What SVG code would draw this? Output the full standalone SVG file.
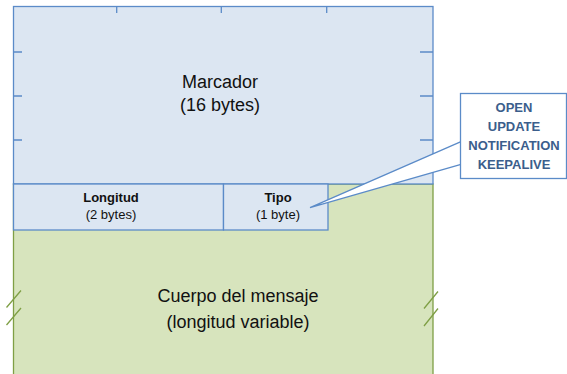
<svg xmlns="http://www.w3.org/2000/svg" width="567" height="374" viewBox="0 0 567 374">
<style>
.blue{fill:#DCE6F2;stroke:#5B8BC8;stroke-width:1.3}
.green{fill:#D7E4BD;stroke:#7F9F45;stroke-width:1.3}
.tick{stroke:#5B8BC8;stroke-width:1.3;fill:none}
.slash{stroke:#7F9F45;stroke-width:1.3;fill:none}
.big{font-family:"Liberation Sans",Arial,sans-serif;font-size:18px;fill:#111;text-anchor:middle}
.small{font-family:"Liberation Sans",Arial,sans-serif;font-size:13px;fill:#111;text-anchor:middle}
.b{font-weight:bold}
.call{font-family:"Liberation Sans",Arial,sans-serif;font-size:13px;font-weight:bold;fill:#3B5E8C;text-anchor:middle}
</style>
<g id="cuerpo">
<rect class="green" x="13.5" y="184" width="419.5" height="200"/>
<path class="slash" d="M6.5 307.5L21 290.5M6.5 325L21 308M424 308.5L438 291.5M424 326L438 308.5"/>
<text class="big" x="238" y="302">Cuerpo del mensaje</text>
<text class="big" x="238" y="328">(longitud variable)</text>
</g>
<g id="marcador">
<rect class="blue" x="13.5" y="6.5" width="419.5" height="177.5"/>
<path class="tick" d="M116.7 6.5V13M221.3 6.5V13M326.7 6.5V13M13.5 52H22M13.5 96H22M13.5 140H22M420 52H433M420 96H433M420 140H433"/>
<text class="big" x="220" y="88">Marcador</text>
<text class="big" x="220" y="111">(16 bytes)</text>
</g>
<g id="longitud">
<rect class="blue" x="13.5" y="184" width="210" height="46"/>
<text class="small b" x="111" y="202">Longitud</text>
<text class="small" x="111" y="219">(2 bytes)</text>
</g>
<g id="tipo">
<rect class="blue" x="223.5" y="184" width="104.5" height="46"/>
<text class="small b" x="278" y="202">Tipo</text>
<text class="small" x="278" y="219">(1 byte)</text>
</g>
<g id="callout">
<path d="M461 141.7L310 207.7L461 164.3Z" fill="#fff" stroke="none"/>
<path d="M461 141.7L310 207.7L461 164.3" fill="none" class="tick"/>
<rect x="460.5" y="93.5" width="106" height="85" fill="#fff" stroke="#5B8BC8" stroke-width="1.3"/>
<text class="call" x="514" y="112">OPEN</text>
<text class="call" x="514" y="131">UPDATE</text>
<text class="call" x="514" y="150">NOTIFICATION</text>
<text class="call" x="514" y="168.5">KEEPALIVE</text>
</g>
</svg>
